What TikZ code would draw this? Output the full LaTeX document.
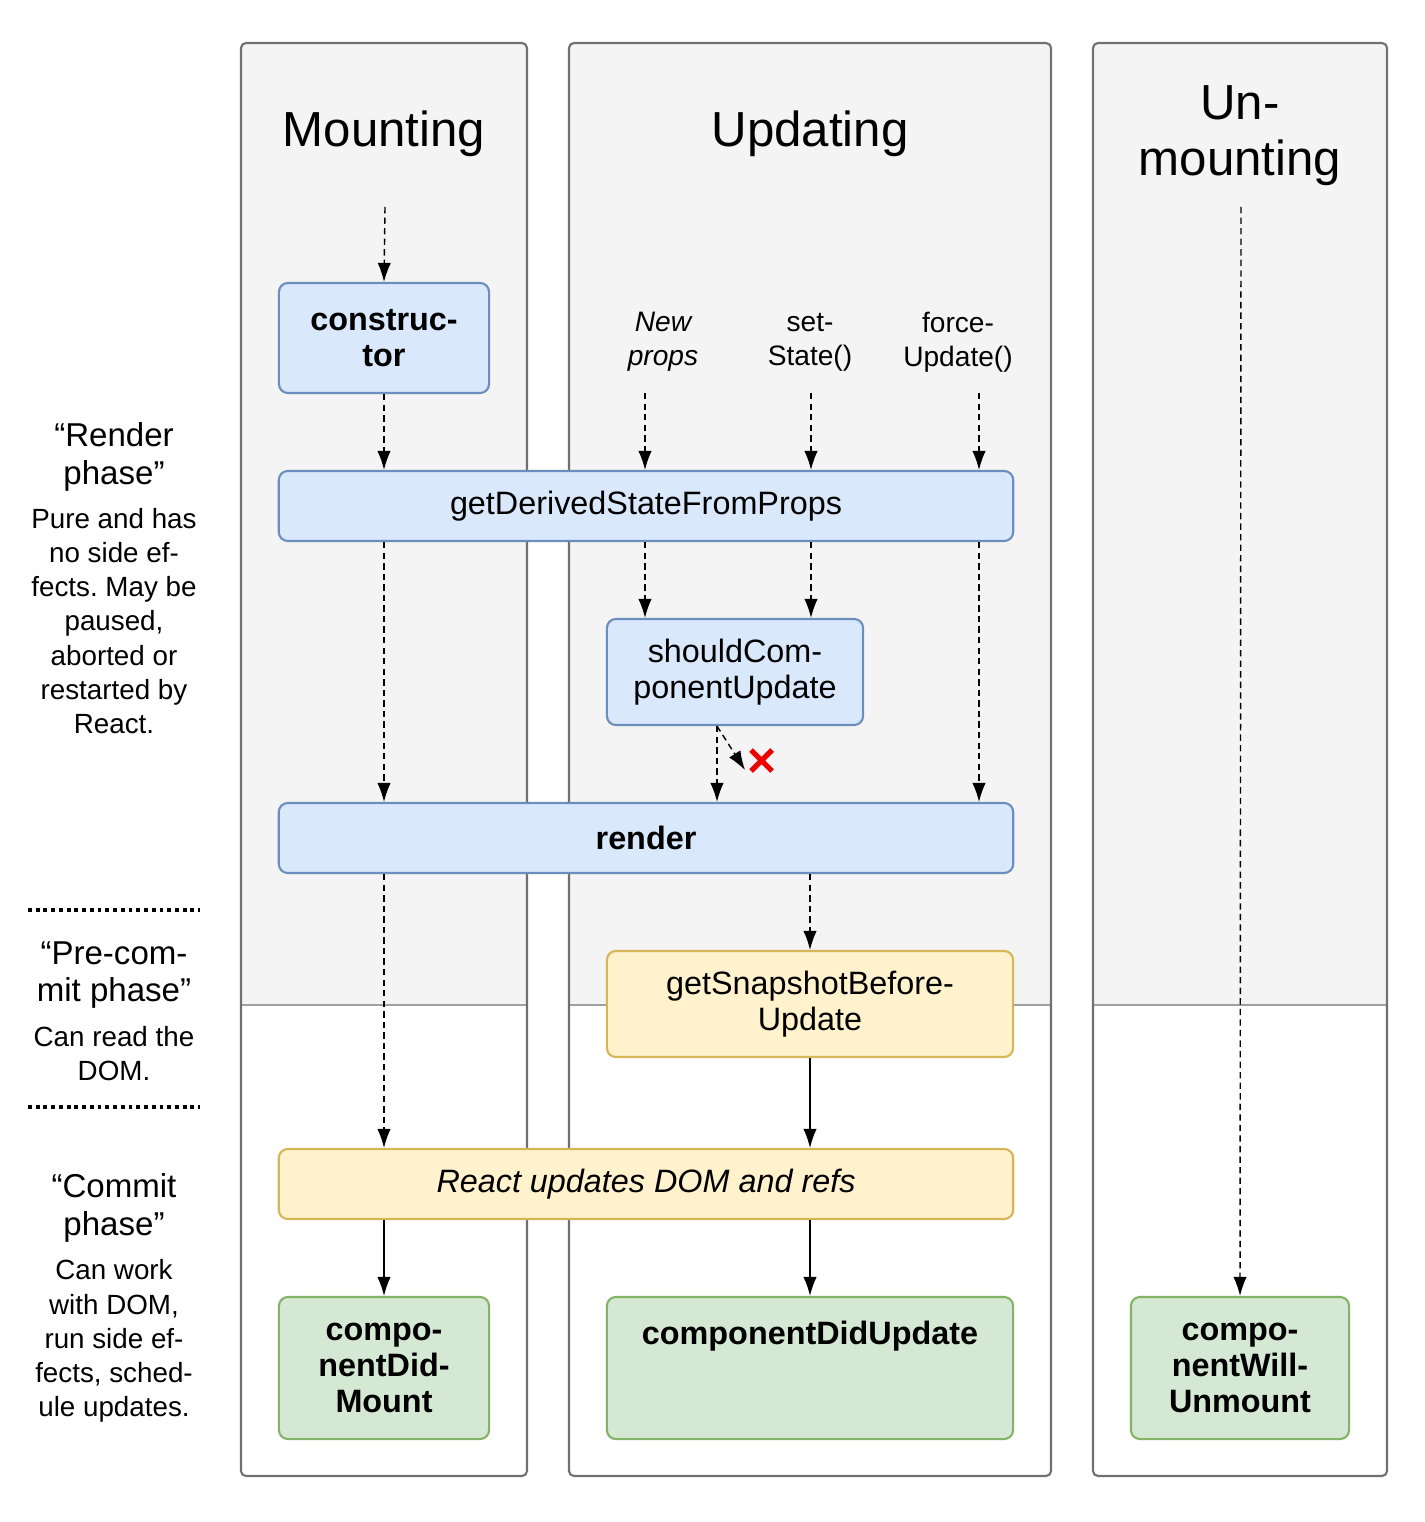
\documentclass[tikz,border=0pt]{standalone}
\usepackage{fontspec}
\setmainfont{Liberation Sans}
\usetikzlibrary{arrows.meta}
\definecolor{colfill}{HTML}{F4F4F4}
\definecolor{colline}{HTML}{707070}
\definecolor{sepline}{HTML}{A0A0A0}
\definecolor{bluefill}{HTML}{DAE8FC}
\definecolor{blueline}{HTML}{6C8EBF}
\definecolor{yellowfill}{HTML}{FFF2CC}
\definecolor{yellowline}{HTML}{D6B656}
\definecolor{greenfill}{HTML}{D5E8D4}
\definecolor{greenline}{HTML}{82B366}
\definecolor{xred}{HTML}{EE0000}
\frenchspacing

\begin{document}
\begin{tikzpicture}[x=0.01cm,y=-0.01cm,
    box/.style={draw, rounded corners=0.9mm, line width=0.6pt, align=center, inner sep=0pt,
        font=\fontsize{9.2}{10.3}\selectfont},
    bluebox/.style={box, fill=bluefill, draw=blueline},
    yellowbox/.style={box, fill=yellowfill, draw=yellowline},
    greenbox/.style={box, fill=greenfill, draw=greenline, font=\fontsize{9.2}{10.3}\selectfont\bfseries},
    coltitle/.style={align=center, font=\fontsize{14}{16}\selectfont},
    inlabel/.style={align=center, font=\fontsize{8}{9.7}\selectfont},
    phasetitle/.style={align=center, font=\fontsize{9.4}{10.6}\selectfont},
    phasetext/.style={align=center, font=\fontsize{7.9}{9.7}\selectfont},
    dasharrow/.style={-{Latex[length=5.4pt,width=3.8pt]}, line width=0.4pt, dash pattern=on 1.8pt off 1.2pt},
    solidarrow/.style={-{Latex[length=5.4pt,width=3.8pt]}, line width=0.4pt},
    phaseline/.style={line width=1pt, dash pattern=on 1.1pt off 1.1pt}]
    \useasboundingbox (0,0) rectangle (1424,1522);

    % columns
    \fill[colfill, rounded corners=0.5mm] (241,1005) |- (527,43) |- cycle;
    \fill[colfill, rounded corners=0.5mm] (569,1005) |- (1051,43) |- cycle;
    \fill[colfill, rounded corners=0.5mm] (1093,1005) |- (1387,43) |- cycle;
    \draw[sepline, line width=0.5pt] (241,1005) -- (527,1005) (569,1005) -- (1051,1005) (1093,1005) -- (1387,1005);
    \draw[colline, line width=0.6pt, rounded corners=0.5mm] (241,43) rectangle (527,1476);
    \draw[colline, line width=0.6pt, rounded corners=0.5mm] (569,43) rectangle (1051,1476);
    \draw[colline, line width=0.6pt, rounded corners=0.5mm] (1093,43) rectangle (1387,1476);

    \node[coltitle] (mt) at (384,134) {Mounting};
    \node[coltitle] (ut) at (810,134) {Updating};
    \node[coltitle] (umt) at (1240,136) {Un-\\mounting};

    % boxes
    \node[bluebox, minimum width=2.10cm, minimum height=1.10cm, font=\fontsize{9.2}{10.3}\selectfont\bfseries] (ctor) at (384,338) {construc-\\tor};
    \node[bluebox, minimum width=7.34cm, minimum height=0.70cm] (gdsfp) at (646,506) {getDerivedStateFromProps};
    \node[bluebox, minimum width=2.56cm, minimum height=1.06cm] (scu) at (735,672) {shouldCom-\\ponentUpdate};
    \node[bluebox, minimum width=7.34cm, minimum height=0.70cm, font=\fontsize{9.2}{10.3}\selectfont\bfseries] (rend) at (646,838) {render};
    \node[yellowbox, minimum width=4.06cm, minimum height=1.06cm] (gsbu) at (810,1004) {getSnapshotBefore-\\Update};
    \node[yellowbox, minimum width=7.34cm, minimum height=0.70cm, font=\fontsize{9.2}{10.3}\selectfont\itshape] (rud) at (646,1184) {React updates DOM and refs};
    \node[greenbox, minimum width=2.10cm, minimum height=1.42cm] (cdm) at (384,1368) {compo-\\nentDid-\\Mount};
    \node[greenbox, minimum width=4.06cm, minimum height=1.42cm] (cdu) at (810,1368) {};
    \node[font=\fontsize{9.2}{10.3}\selectfont\bfseries] (cdut) at (810,1336) {componentDidUpdate};
    \node[greenbox, minimum width=2.18cm, minimum height=1.42cm] (cwu) at (1240,1368) {compo-\\nentWill-\\Unmount};

    % update sources
    \node[inlabel] (np) at (663,342) {\itshape New\\\itshape props};
    \node[inlabel] (ss) at (810,342) {set-\\State()};
    \node[inlabel] (fu) at (958,342) {force-\\Update()};
    \coordinate (np0) at (645,393);
    \coordinate (ss0) at (811,393);
    \coordinate (fu0) at (979,393);
    \coordinate (mtop) at (385,207);
    \coordinate (utop) at (1241,207);
    \coordinate (no) at (717,0);
    \coordinate (skip) at (745,770);

    % mounting
    \draw[dasharrow] (mtop) -- (ctor.north);
    \draw[dasharrow] (ctor) -- (ctor |- gdsfp.north);
    \draw[dasharrow] (ctor |- gdsfp.south) -- (ctor |- rend.north);
    \draw[dasharrow] (ctor |- rend.south) -- (ctor |- rud.north);
    \draw[solidarrow] (cdm |- rud.south) -- (cdm.north);

    % updating
    \draw[dasharrow] (np0) -- (np0 |- gdsfp.north);
    \draw[dasharrow] (ss0) -- (ss0 |- gdsfp.north);
    \draw[dasharrow] (fu0) -- (fu0 |- gdsfp.north);
    \draw[dasharrow] (np0 |- gdsfp.south) -- (np0 |- scu.north);
    \draw[dasharrow] (ss0 |- gdsfp.south) -- (ss0 |- scu.north);
    \draw[dasharrow] (fu0 |- gdsfp.south) -- (fu0 |- rend.north);
    \draw[dasharrow] (no |- scu.south) -- (no |- rend.north);
    \draw[dasharrow] (no |- scu.south) -- (skip);
    \draw[xred, line width=1.5pt] (751,750) -- (772,771) (751,771) -- (772,750);
    \draw[dasharrow] (gsbu |- rend.south) -- (gsbu.north);
    \draw[solidarrow] (gsbu.south) -- (gsbu |- rud.north);
    \draw[solidarrow] (cdu |- rud.south) -- (cdu.north);

    % unmounting
    \draw[dasharrow] (utop) -- (cwu.north);

    % phases
    \node[phasetitle] (rpt) at (114,457) {“Render\\phase”};
    \node[phasetext] (rpd) at (114,621) {Pure and has\\no side ef-\\fects. May be\\paused,\\aborted or\\restarted by\\React.};
    \coordinate (d1a) at (28,910);
    \coordinate (d1b) at (200,910);
    \draw[phaseline] (d1a) -- (d1b);
    \node[phasetitle] (pct) at (114,975) {“Pre-com-\\mit phase”};
    \node[phasetext] (pcd) at (114,1054) {Can read the\\DOM.};
    \coordinate (d2a) at (28,1107);
    \coordinate (d2b) at (200,1107);
    \draw[phaseline] (d2a) -- (d2b);
    \node[phasetitle] (cpt) at (114,1208) {“Commit\\phase”};
    \node[phasetext] (cpd) at (114,1341) {Can work\\with DOM,\\run side ef-\\fects, sched-\\ule updates.};
\end{tikzpicture}
\end{document}
